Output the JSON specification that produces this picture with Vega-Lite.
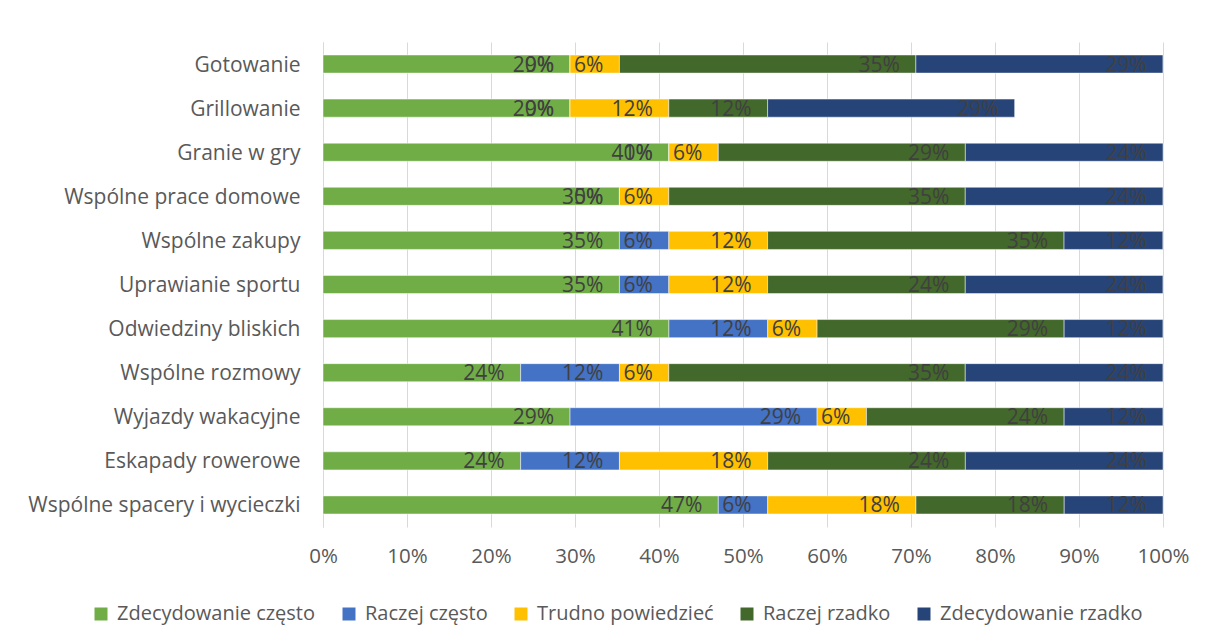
{
  "$schema": "https://vega.github.io/schema/vega-lite/v6.json",
  "width": 840,
  "height": 485,
  "autosize": {"type": "none"},
  "padding": {"left": 323, "top": 42, "right": 42, "bottom": 114},
  "background": "white",
  "config": {"view": {"stroke": null}, "font": "Open Sans"},
  "data": {"values": [
    {"a": "Gotowanie", "k": 1, "o": "Zdecydowanie często", "v": 0.2941},
    {"a": "Gotowanie", "k": 2, "o": "Raczej często", "v": 0},
    {"a": "Gotowanie", "k": 3, "o": "Trudno powiedzieć", "v": 0.0588},
    {"a": "Gotowanie", "k": 4, "o": "Raczej rzadko", "v": 0.3529},
    {"a": "Gotowanie", "k": 5, "o": "Zdecydowanie rzadko", "v": 0.2941},
    {"a": "Grillowanie", "k": 1, "o": "Zdecydowanie często", "v": 0.2941},
    {"a": "Grillowanie", "k": 2, "o": "Raczej często", "v": 0},
    {"a": "Grillowanie", "k": 3, "o": "Trudno powiedzieć", "v": 0.1176},
    {"a": "Grillowanie", "k": 4, "o": "Raczej rzadko", "v": 0.1176},
    {"a": "Grillowanie", "k": 5, "o": "Zdecydowanie rzadko", "v": 0.2941},
    {"a": "Granie w gry", "k": 1, "o": "Zdecydowanie często", "v": 0.4118},
    {"a": "Granie w gry", "k": 2, "o": "Raczej często", "v": 0},
    {"a": "Granie w gry", "k": 3, "o": "Trudno powiedzieć", "v": 0.0588},
    {"a": "Granie w gry", "k": 4, "o": "Raczej rzadko", "v": 0.2941},
    {"a": "Granie w gry", "k": 5, "o": "Zdecydowanie rzadko", "v": 0.2353},
    {"a": "Wspólne prace domowe", "k": 1, "o": "Zdecydowanie często", "v": 0.3529},
    {"a": "Wspólne prace domowe", "k": 2, "o": "Raczej często", "v": 0},
    {"a": "Wspólne prace domowe", "k": 3, "o": "Trudno powiedzieć", "v": 0.0588},
    {"a": "Wspólne prace domowe", "k": 4, "o": "Raczej rzadko", "v": 0.3529},
    {"a": "Wspólne prace domowe", "k": 5, "o": "Zdecydowanie rzadko", "v": 0.2353},
    {"a": "Wspólne zakupy", "k": 1, "o": "Zdecydowanie często", "v": 0.3529},
    {"a": "Wspólne zakupy", "k": 2, "o": "Raczej często", "v": 0.0588},
    {"a": "Wspólne zakupy", "k": 3, "o": "Trudno powiedzieć", "v": 0.1176},
    {"a": "Wspólne zakupy", "k": 4, "o": "Raczej rzadko", "v": 0.3529},
    {"a": "Wspólne zakupy", "k": 5, "o": "Zdecydowanie rzadko", "v": 0.1176},
    {"a": "Uprawianie sportu", "k": 1, "o": "Zdecydowanie często", "v": 0.3529},
    {"a": "Uprawianie sportu", "k": 2, "o": "Raczej często", "v": 0.0588},
    {"a": "Uprawianie sportu", "k": 3, "o": "Trudno powiedzieć", "v": 0.1176},
    {"a": "Uprawianie sportu", "k": 4, "o": "Raczej rzadko", "v": 0.2353},
    {"a": "Uprawianie sportu", "k": 5, "o": "Zdecydowanie rzadko", "v": 0.2353},
    {"a": "Odwiedziny bliskich", "k": 1, "o": "Zdecydowanie często", "v": 0.4118},
    {"a": "Odwiedziny bliskich", "k": 2, "o": "Raczej często", "v": 0.1176},
    {"a": "Odwiedziny bliskich", "k": 3, "o": "Trudno powiedzieć", "v": 0.0588},
    {"a": "Odwiedziny bliskich", "k": 4, "o": "Raczej rzadko", "v": 0.2941},
    {"a": "Odwiedziny bliskich", "k": 5, "o": "Zdecydowanie rzadko", "v": 0.1176},
    {"a": "Wspólne rozmowy", "k": 1, "o": "Zdecydowanie często", "v": 0.2353},
    {"a": "Wspólne rozmowy", "k": 2, "o": "Raczej często", "v": 0.1176},
    {"a": "Wspólne rozmowy", "k": 3, "o": "Trudno powiedzieć", "v": 0.0588},
    {"a": "Wspólne rozmowy", "k": 4, "o": "Raczej rzadko", "v": 0.3529},
    {"a": "Wspólne rozmowy", "k": 5, "o": "Zdecydowanie rzadko", "v": 0.2353},
    {"a": "Wyjazdy wakacyjne", "k": 1, "o": "Zdecydowanie często", "v": 0.2941},
    {"a": "Wyjazdy wakacyjne", "k": 2, "o": "Raczej często", "v": 0.2941},
    {"a": "Wyjazdy wakacyjne", "k": 3, "o": "Trudno powiedzieć", "v": 0.0588},
    {"a": "Wyjazdy wakacyjne", "k": 4, "o": "Raczej rzadko", "v": 0.2353},
    {"a": "Wyjazdy wakacyjne", "k": 5, "o": "Zdecydowanie rzadko", "v": 0.1176},
    {"a": "Eskapady rowerowe", "k": 1, "o": "Zdecydowanie często", "v": 0.2353},
    {"a": "Eskapady rowerowe", "k": 2, "o": "Raczej często", "v": 0.1176},
    {"a": "Eskapady rowerowe", "k": 3, "o": "Trudno powiedzieć", "v": 0.1765},
    {"a": "Eskapady rowerowe", "k": 4, "o": "Raczej rzadko", "v": 0.2353},
    {"a": "Eskapady rowerowe", "k": 5, "o": "Zdecydowanie rzadko", "v": 0.2353},
    {"a": "Wspólne spacery i wycieczki", "k": 1, "o": "Zdecydowanie często", "v": 0.4706},
    {"a": "Wspólne spacery i wycieczki", "k": 2, "o": "Raczej często", "v": 0.0588},
    {"a": "Wspólne spacery i wycieczki", "k": 3, "o": "Trudno powiedzieć", "v": 0.1765},
    {"a": "Wspólne spacery i wycieczki", "k": 4, "o": "Raczej rzadko", "v": 0.1765},
    {"a": "Wspólne spacery i wycieczki", "k": 5, "o": "Zdecydowanie rzadko", "v": 0.1176}
  ]},
  "encoding": {
    "y": {
      "field": "a", "type": "nominal", "sort": null,
      "scale": {"paddingInner": 0.59, "paddingOuter": 0.295},
      "axis": {"title": null, "labelFontSize": 21, "labelColor": "#595959", "ticks": false, "domain": true, "domainColor": "#D9D9D9", "labelPadding": 23, "labelLimit": 400, "labelOffset": 1.5}
    },
    "x": {
      "field": "v", "type": "quantitative", "stack": "zero",
      "scale": {"domain": [0, 1], "nice": false},
      "axis": {"title": null, "format": "%", "values": [0, 0.1, 0.2, 0.3, 0.4, 0.5, 0.6, 0.7, 0.8, 0.9, 1], "grid": true, "gridColor": "#D9D9D9", "gridWidth": 1, "domain": false, "ticks": false, "labelPadding": 19, "labelFontSize": 20.5, "labelColor": "#595959", "labelFlush": false, "labelAlign": "center", "labelBound": false}
    },
    "order": {"field": "k", "type": "quantitative"}
  },
  "layer": [
    {
      "mark": {"type": "bar", "stroke": "#ffffff", "strokeWidth": 0.6, "strokeOpacity": 0.8},
      "encoding": {
        "color": {
          "field": "o", "type": "nominal",
          "scale": {"domain": ["Zdecydowanie często", "Raczej często", "Trudno powiedzieć", "Raczej rzadko", "Zdecydowanie rzadko"], "range": ["#70AD47", "#4472C4", "#FFC000", "#43682B", "#264478"]},
          "legend": {"title": null, "orient": "none", "direction": "horizontal", "legendX": -232, "legendY": 562, "symbolType": "square", "symbolSize": 169, "symbolStrokeWidth": 0, "labelFontSize": 20, "labelColor": "#595959", "labelOffset": 6, "columnPadding": 23, "labelLimit": 400}
        }
      }
    },
    {
      "mark": {"type": "text", "align": "right", "baseline": "middle", "dx": -16, "dy": 1.5, "fontSize": 21, "color": "#404040"},
      "encoding": {
        "text": {"field": "v", "type": "quantitative", "format": ".0%"},
        "detail": {"field": "o", "type": "nominal"}
      }
    }
  ]
}
